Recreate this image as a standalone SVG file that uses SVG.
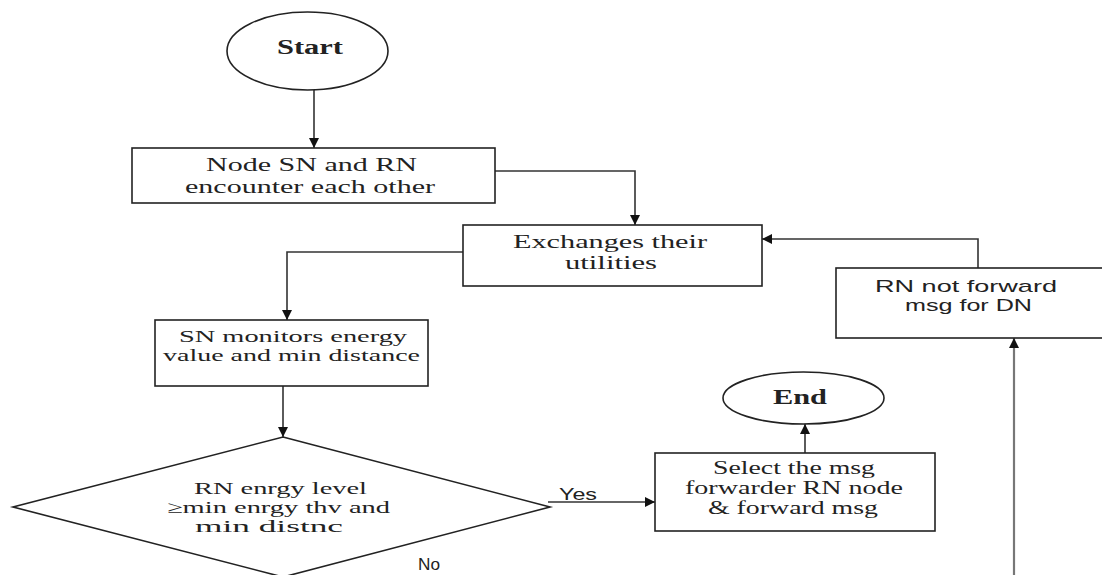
<svg xmlns="http://www.w3.org/2000/svg" width="1102" height="575" viewBox="0 0 1102 575">
<style>
.shape{fill:#fff;stroke:#222;stroke-width:1.6}
.serif{font-family:"Liberation Serif","Times New Roman",serif;font-size:18px;fill:#222}
.tight{font-size:17px}
.bold{font-weight:bold;font-size:20px}
.sans{font-family:"Liberation Sans",Arial,sans-serif;font-size:17px;fill:#222}
.conn{fill:none;stroke:#333;stroke-width:1.6}
.gray{stroke:#777;stroke-width:2.2}
</style>
<defs>
<marker id="arr" viewBox="0 0 10 10" refX="10" refY="5" markerWidth="10" markerHeight="10" markerUnits="userSpaceOnUse" orient="auto">
<path d="M0,0 L10,5 L0,10 z" fill="#111"/>
</marker>
</defs>
<rect width="1102" height="575" fill="#fff"/>
<g id="connectors">
<path class="conn" d="M314,90 V148" marker-end="url(#arr)"/>
<path class="conn" d="M495,171 H635 V225" marker-end="url(#arr)"/>
<path class="conn" d="M463,252 H287 V320" marker-end="url(#arr)"/>
<path class="conn" d="M283,386 V437" marker-end="url(#arr)"/>
<path class="conn" d="M548,502 H655" marker-end="url(#arr)"/>
<path class="conn" d="M805,453 V424" marker-end="url(#arr)"/>
<path class="conn gray" d="M1014,575 V338" marker-end="url(#arr)"/>
<path class="conn" d="M978,268 V239 H762" marker-end="url(#arr)"/>
<text class="sans" x="559" y="500" textLength="38" lengthAdjust="spacingAndGlyphs">Yes</text>
<text class="sans" x="418" y="570" textLength="22" lengthAdjust="spacingAndGlyphs">No</text>
</g>
<g id="start">
<ellipse class="shape" cx="307.5" cy="51" rx="80.5" ry="39"/>
<text class="serif bold" x="277" y="54" textLength="66" lengthAdjust="spacingAndGlyphs">Start</text>
</g>
<g id="encounter">
<rect class="shape" x="132" y="148" width="363" height="55"/>
<text class="serif" x="206" y="171" textLength="211" lengthAdjust="spacingAndGlyphs">Node SN and RN</text>
<text class="serif" x="185" y="193" textLength="250" lengthAdjust="spacingAndGlyphs">encounter each other</text>
</g>
<g id="exchange">
<rect class="shape" x="463" y="225" width="299" height="61"/>
<text class="serif" x="513" y="248" textLength="194" lengthAdjust="spacingAndGlyphs">Exchanges their</text>
<text class="serif" x="565" y="269" textLength="92" lengthAdjust="spacingAndGlyphs">utilities</text>
</g>
<g id="notforward">
<rect class="shape" x="836" y="268" width="290" height="70"/>
<text class="sans" x="875" y="292" textLength="182" lengthAdjust="spacingAndGlyphs">RN not forward</text>
<text class="sans" x="905" y="311" textLength="127" lengthAdjust="spacingAndGlyphs">msg for DN</text>
</g>
<g id="monitor">
<rect class="shape" x="155" y="320" width="273" height="66"/>
<text class="serif tight" x="179" y="342" textLength="228" lengthAdjust="spacingAndGlyphs">SN monitors energy</text>
<text class="serif tight" x="163" y="361" textLength="257" lengthAdjust="spacingAndGlyphs">value and min distance</text>
</g>
<g id="decision">
<polygon class="shape" points="283,437 550,507 283,577 13,507"/>
<text class="serif tight" x="194" y="494" textLength="173" lengthAdjust="spacingAndGlyphs">RN enrgy level</text>
<text class="serif tight" x="167" y="513" textLength="223" lengthAdjust="spacingAndGlyphs">≥min enrgy thv and</text>
<text class="serif tight" x="195" y="532" textLength="148" lengthAdjust="spacingAndGlyphs">min  distnc</text>
</g>
<g id="select">
<rect class="shape" x="655" y="453" width="280" height="78"/>
<text class="serif" x="713" y="474" textLength="162" lengthAdjust="spacingAndGlyphs">Select the msg</text>
<text class="serif" x="685" y="494" textLength="218" lengthAdjust="spacingAndGlyphs">forwarder RN node</text>
<text class="serif" x="708" y="514" textLength="170" lengthAdjust="spacingAndGlyphs">&amp; forward msg</text>
</g>
<g id="end">
<ellipse class="shape" cx="803.5" cy="398" rx="80.5" ry="26"/>
<text class="serif bold" x="773" y="404" textLength="54" lengthAdjust="spacingAndGlyphs">End</text>
</g>
</svg>
